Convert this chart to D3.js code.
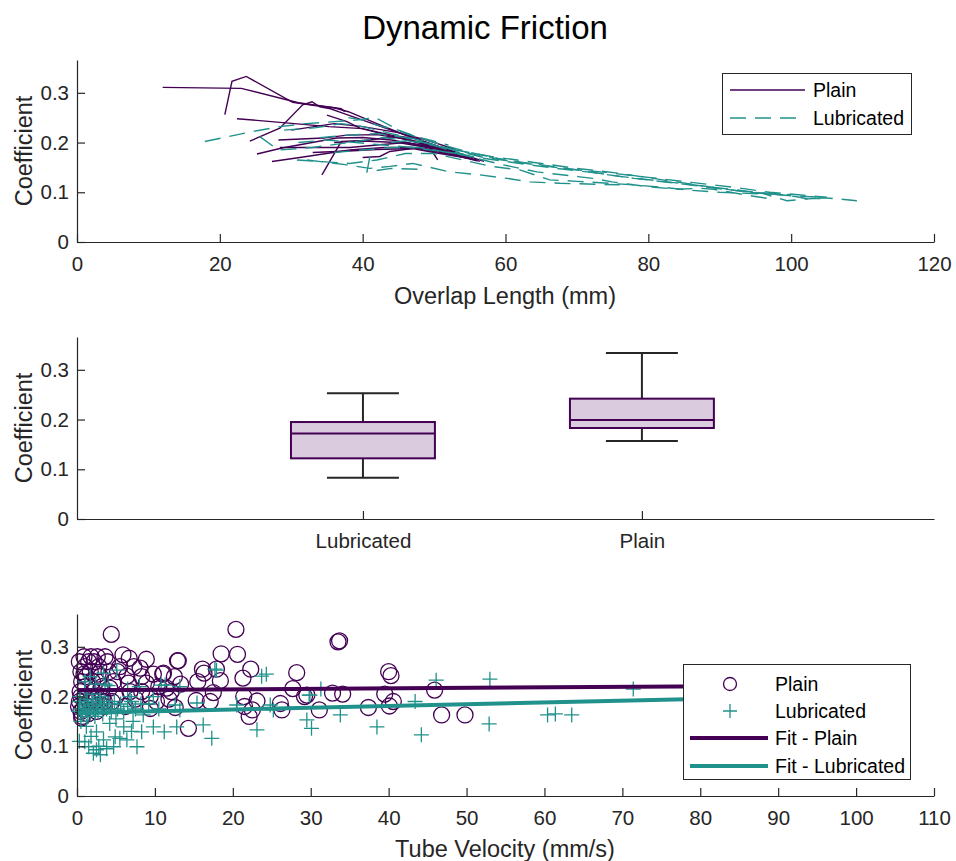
<!DOCTYPE html>
<html>
<head>
<meta charset="utf-8">
<script src="https://cdn.jsdelivr.net/npm/d3@7"></script>
<style>
  body { margin: 0; background: #fff; }
  svg { font-family: "Liberation Sans", Arial, Helvetica, sans-serif; }
</style>
</head>
<body>
<svg id="chart" width="956" height="861"></svg>
<script>
// ---- Overlap length vs. coefficient, one polyline per trial [mm, coefficient]
const plainTrials = [
  [[12,.311],[23,.309],[31,.28],[35,.272],[37,.268],[37.5,.262]],
  [[20.7,.256],[21.7,.323],[23.7,.333],[30.2,.281],[33,.275],[36,.27],[38,.262],[42,.238],[46,.215],[51,.19],[57,.162]],
  [[24.2,.203],[28.4,.229],[31.6,.276],[32.9,.282],[34,.272],[35.5,.268],[37,.26],[40,.245],[45,.22],[50,.195],[55,.17]],
  [[22.4,.248],[35.3,.232],[40,.228],[44,.215],[49,.197],[54,.176]],
  [[25.2,.177],[28.7,.189],[36.4,.209],[40,.21],[44,.205],[48,.195],[52,.182]],
  [[27.3,.162],[31.2,.17],[38.2,.185],[43,.19],[47,.19],[51,.18],[56,.165]],
  [[28.2,.205],[34.5,.209],[37.8,.215],[42,.216],[46,.207],[50,.192]],
  [[28.4,.19],[38.2,.19],[42,.195],[46,.2],[50,.19],[54,.176]],
  [[34.3,.135],[37,.202],[40,.203],[45,.2],[49,.19],[53,.178]],
  [[35,.255],[37.8,.242],[39.6,.229],[47.1,.202],[56.4,.162]],
  [[33,.18],[38,.183],[42,.186],[47,.188],[50,.18],[55,.168]],
  [[30,.225],[36,.238],[40,.232],[45,.22],[49,.205],[53,.186]],
  [[40,.17],[42.4,.172],[43.8,.182],[48,.19],[52,.178],[56,.163]],
  [[36,.2],[41,.205],[45,.213],[48,.207],[49.4,.19],[50.5,.165]]
];
const lubricatedTrials = [
  [[17.9,.202],[24.5,.222],[28.4,.232],[32,.238],[36,.242],[39,.245],[41.8,.25],[45.7,.22],[50,.2],[55,.18],[60,.165]],
  [[25.6,.212],[28.2,.185],[33,.19],[38,.2],[43,.21],[48,.2],[53,.185],[58,.172],[64,.16],[70,.148],[76,.138],[82,.125],[88,.112],[94,.1],[100,.093],[104,.09]],
  [[29,.225],[33.5,.23],[37,.238],[40,.232],[44,.218],[48,.205],[52,.185],[56,.168],[59.7,.155],[64.4,.141],[66.2,.138],[70.4,.131],[72.3,.128],[74.9,.121],[77.9,.115],[80.2,.111],[84,.106],[87.2,.108],[89.1,.106],[91.9,.099],[95.2,.091],[97.5,.086]],
  [[30.8,.165],[38.2,.158],[42,.165],[46,.178],[50,.178],[54,.165],[58,.152],[62,.145],[66.2,.125],[70,.122],[77.9,.115],[82,.11],[86,.104],[90,.1],[93.8,.098],[96.1,.0966],[98,.096],[100.8,.091],[102.2,.087],[104.5,.089],[106.8,.0865],[109.2,.083]],
  [[32.2,.165],[37.8,.155],[41,.148],[43.8,.152],[47,.158],[52.2,.141],[56.4,.135],[60.2,.128],[63.4,.121],[67.6,.118],[76,.115]],
  [[41,.171],[40.6,.141],[44,.148],[48,.146]],
  [[34,.21],[38,.215],[42,.218],[46,.21],[50,.195],[54,.18],[57,.17],[62,.16],[68,.148],[74,.14],[80,.13],[86,.12],[92,.11],[97,.1],[101,.095],[105,.09]],
  [[36,.18],[40,.185],[44,.19],[48,.19],[52,.18],[56,.17],[60,.162],[66,.15],[72,.14],[78,.128],[84,.118],[90,.107],[96,.098],[99.4,.083],[101.7,.086],[103.6,.088],[105,.0865]],
  [[38,.25],[40,.245],[42,.235],[45,.225],[48,.21],[52,.195]],
  [[31,.2],[35,.205],[39,.2],[43,.195],[47,.19],[51,.182],[55,.175]],
  [[44,.2],[47,.205],[50,.195],[53,.185],[56,.175],[60,.165],[65,.155],[70,.145],[76,.132],[82,.122],[88,.112],[95,.1],[100,.095]]
];

// ---- Box summary per condition
const boxCategories = ["Lubricated", "Plain"];
const boxLow    = [0.083, 0.157];
const boxQ1     = [0.122, 0.183];
const boxMedian = [0.172, 0.199];
const boxQ3     = [0.195, 0.242];
const boxHigh   = [0.253, 0.334];

// ---- Tube velocity vs. coefficient samples
const plainVelocity = [
  0.3,0.5,0.6,0.4,0.3,0.5,0.7,0.9,1.0,1.2,1.1,1.0,1.3,1.5,1.7,1.8,2.0,2.1,2.3,2.2,2.6,2.8,3.0,3.2,3.3,3.6,3.9,4.1,
  0.2,0.8,1.6,2.5,1.9,0.5,2.9,3.5,4.5,0.6,1.4,
  4.4,4.2,4.7,5.0,5.5,5.9,6.4,6.6,6.7,6.8,8.1,8.3,8.3,8.9,8.9,9.4,9.4,11.0,11.5,13.0,
  5.2,7.3,9.8,10.5,7.5,10.2,3.5,6.2,12.5,2.7,0.9,11.8,
  11.1,12.9,18.5,20.6,20.4,16.1,16.3,17.9,22.3,21.3,28.2,15.5,18.4,13.3,12.1,17.5,27.7,21.4,15.3,17.1,23.1,
  29.2,32.8,34.1,12.6,21.5,22.5,22.1,26.1,26.3,31.1,14.3,33.5,33.7,
  40.0,40.3,29.5,39.5,40.6,40.1,37.4,45.9,46.8,49.8
];
const plainCoefficient = [
  0.27,0.25,0.23,0.21,0.19,0.17,0.16,0.28,0.26,0.24,0.22,0.20,0.18,0.27,0.25,0.28,0.23,0.21,0.19,0.27,0.28,0.26,0.24,0.22,0.20,0.28,0.27,0.25,
  0.18,0.175,0.19,0.17,0.20,0.20,0.185,0.18,0.19,0.157,0.165,
  0.325,0.217,0.23,0.20,0.26,0.284,0.241,0.227,0.277,0.21,0.257,0.24,0.21,0.275,0.227,0.20,0.176,0.245,0.217,0.272,
  0.25,0.26,0.245,0.22,0.195,0.19,0.19,0.18,0.24,0.245,0.245,0.195,
  0.247,0.272,0.286,0.285,0.335,0.255,0.247,0.255,0.255,0.237,0.248,0.23,0.232,0.225,0.21,0.208,0.216,0.20,0.192,0.19,0.191,
  0.20,0.207,0.205,0.178,0.18,0.173,0.16,0.186,0.173,0.173,0.136,0.31,0.312,
  0.25,0.242,0.203,0.205,0.19,0.181,0.178,0.213,0.163,0.163
];
const lubricatedVelocity = [
  0.3,0.5,0.7,0.9,1.1,1.3,1.5,1.7,1.9,2.1,2.3,2.5,2.7,2.9,3.1,3.3,3.5,3.8,4.1,4.4,4.8,5.2,5.6,6.0,6.5,7.0,7.5,8.2,0.4,1.0,2.0,3.0,
  3.6,6.8,9.2,10.5,1.4,0.2,
  1.7,3.4,5.1,1.0,2.4,4.0,6.5,8.0,10.8,9.8,
  8.5,9.8,8.3,7.7,6.4,4.9,3.4,2.5,2.1,3.0,1.5,1.0,4.7,5.5,6.0,4.2,2.5,1.2,0.5,2.8,3.8,1.8,0.3,7.0,5.0,7.2,
  11.3,12.6,15.4,20.5,24.8,25.2,29.9,29.5,30.1,33.8,11.2,12.8,16.2,17.3,23.1,13.2,13.2,17.7,17.9,23.7,24.3,31.3,29.8,
  38.5,43.4,44.2,46.1,52.9,53.0,60.4,61.4,63.5,71.4
];
const lubricatedCoefficient = [
  0.19,0.175,0.165,0.185,0.17,0.195,0.18,0.165,0.19,0.175,0.16,0.185,0.17,0.195,0.18,0.165,0.19,0.175,0.185,0.17,0.19,0.175,0.185,0.17,0.18,0.19,0.175,0.185,0.20,0.21,0.205,0.20,
  0.225,0.20,0.185,0.175,0.16,0.17,
  0.24,0.247,0.253,0.23,0.225,0.222,0.215,0.22,0.223,0.20,
  0.163,0.139,0.129,0.099,0.113,0.119,0.113,0.093,0.086,0.083,0.099,0.109,0.099,0.116,0.139,0.146,0.129,0.14,0.15,0.10,0.095,0.12,0.11,0.13,0.155,0.15,
  0.223,0.183,0.187,0.183,0.183,0.173,0.203,0.153,0.136,0.163,0.129,0.139,0.143,0.116,0.133,0.22,0.173,0.255,0.253,0.241,0.245,0.215,0.203,
  0.139,0.19,0.123,0.233,0.145,0.235,0.163,0.165,0.163,0.215
];

// Linear fits: [intercept, slope]
const fitPlain = [0.2125, 0.0001];
const fitLubricated = [0.167, 0.00035];
const fitRange = [0, 100];

const xTicksOverlap = [0, 20, 40, 60, 80, 100, 120];
const xTicksVelocity = [0, 10, 20, 30, 40, 50, 60, 70, 80, 90, 100, 110];
const yTicks = [0, 0.1, 0.2, 0.3];

const PURPLE = "#440154", TEAL = "#21918c", INK = "#262626";
const svg = d3.select("#chart");

const left = 77, right = 934;
const panels = [{top: 60, bottom: 242}, {top: 337, bottom: 519}, {top: 614, bottom: 796}];
const yMax = 0.366;

function yScaleFor(p) {
  return d3.scaleLinear().domain([0, yMax]).range([p.bottom, p.top]);
}

function drawAxes(g, x, y, p, xTicks, xFormat) {
  const ax = g.append("g").attr("transform", `translate(0,${p.bottom})`)
    .call(d3.axisBottom(x).tickValues(xTicks).tickFormat(xFormat).tickSizeInner(-8).tickSizeOuter(0));
  const ay = g.append("g").attr("transform", `translate(${left},0)`)
    .call(d3.axisLeft(y).tickValues(yTicks).tickFormat(d => d === 0 ? "0" : d3.format(".1f")(d)).tickSizeInner(-8).tickSizeOuter(0).tickPadding(8));
  [ax, ay].forEach(a => {
    a.select(".domain").attr("stroke", INK).attr("stroke-width", 1.2);
    a.selectAll(".tick line").attr("stroke", INK).attr("stroke-width", 1.2);
    a.selectAll(".tick text").attr("fill", INK).attr("font-size", 20.5).attr("font-family", "Liberation Sans, Arial, sans-serif");
  });
  ax.selectAll(".tick text").attr("dy", "0em").attr("y", 29);
  // y-axis title
  g.append("text")
    .attr("transform", `translate(32,${(p.top + p.bottom) / 2}) rotate(-90)`)
    .attr("text-anchor", "middle").attr("font-size", 23.5).attr("fill", INK)
    .text("Coefficient");
}

// ---- Title
svg.append("text").attr("x", 485).attr("y", 39).attr("text-anchor", "middle")
  .attr("font-size", 33).attr("fill", "#000").text("Dynamic Friction");

// ---- Panel 1: coefficient vs overlap length
{
  const p = panels[0];
  const g = svg.append("g");
  const x = d3.scaleLinear().domain([0, 120]).range([left, right]);
  const y = yScaleFor(p);
  const line = d3.line().x(d => x(d[0])).y(d => y(d[1]));
  g.append("g").selectAll("path").data(plainTrials).join("path")
    .attr("d", line).attr("fill", "none").attr("stroke", PURPLE).attr("stroke-width", 1.4);
  g.append("g").selectAll("path").data(lubricatedTrials).join("path")
    .attr("d", line).attr("fill", "none").attr("stroke", TEAL).attr("stroke-width", 1.4)
    .attr("stroke-dasharray", "16,9");
  drawAxes(g, x, y, p, xTicksOverlap, d3.format("d"));
  g.append("text").attr("x", 505).attr("y", 304).attr("text-anchor", "middle")
    .attr("font-size", 23.5).attr("fill", INK).text("Overlap Length (mm)");

  // legend
  const lg = g.append("g");
  lg.append("rect").attr("x", 722.5).attr("y", 73.5).attr("width", 189).attr("height", 61)
    .attr("fill", "#fff").attr("stroke", INK).attr("stroke-width", 1);
  lg.append("line").attr("x1", 730).attr("x2", 805).attr("y1", 90).attr("y2", 90)
    .attr("stroke", PURPLE).attr("stroke-width", 1.4);
  lg.append("line").attr("x1", 730).attr("x2", 805).attr("y1", 118).attr("y2", 118)
    .attr("stroke", TEAL).attr("stroke-width", 1.4).attr("stroke-dasharray", "16,9");
  lg.append("text").attr("x", 813).attr("y", 97).attr("font-size", 19.5).attr("fill", "#000").text("Plain");
  lg.append("text").attr("x", 813).attr("y", 125).attr("font-size", 19.5).attr("fill", "#000").text("Lubricated");
}

// ---- Panel 2: box summary
{
  const p = panels[1];
  const g = svg.append("g");
  const x = d3.scaleLinear().domain([-0.025, 3.047]).range([left, right]);
  const y = yScaleFor(p);
  const pos = boxCategories.map((c, i) => i + 1);
  const boxW = x(1.516) - x(1);
  const capW = boxW / 2;
  pos.forEach((c, i) => {
    const cx = x(c);
    // whiskers and caps
    g.append("line").attr("x1", cx).attr("x2", cx).attr("y1", y(boxQ3[i])).attr("y2", y(boxHigh[i]))
      .attr("stroke", INK).attr("stroke-width", 2);
    g.append("line").attr("x1", cx).attr("x2", cx).attr("y1", y(boxQ1[i])).attr("y2", y(boxLow[i]))
      .attr("stroke", INK).attr("stroke-width", 2);
    g.append("line").attr("x1", cx - capW / 2).attr("x2", cx + capW / 2).attr("y1", y(boxHigh[i])).attr("y2", y(boxHigh[i]))
      .attr("stroke", INK).attr("stroke-width", 2);
    g.append("line").attr("x1", cx - capW / 2).attr("x2", cx + capW / 2).attr("y1", y(boxLow[i])).attr("y2", y(boxLow[i]))
      .attr("stroke", INK).attr("stroke-width", 2);
    // interquartile box and median
    g.append("rect").attr("x", cx - boxW / 2).attr("width", boxW)
      .attr("y", y(boxQ3[i])).attr("height", y(boxQ1[i]) - y(boxQ3[i]))
      .attr("fill", "#dacbde").attr("stroke", PURPLE).attr("stroke-width", 2);
    g.append("line").attr("x1", cx - boxW / 2).attr("x2", cx + boxW / 2)
      .attr("y1", y(boxMedian[i])).attr("y2", y(boxMedian[i]))
      .attr("stroke", PURPLE).attr("stroke-width", 2);
  });
  drawAxes(g, x, y, p, pos, (d) => boxCategories[d - 1]);
}

// ---- Panel 3: coefficient vs tube velocity
{
  const p = panels[2];
  const g = svg.append("g");
  const x = d3.scaleLinear().domain([0, 110]).range([left, right]);
  const y = yScaleFor(p);
  g.append("g").selectAll("circle").data(d3.range(plainVelocity.length)).join("circle")
    .attr("cx", i => x(plainVelocity[i])).attr("cy", i => y(plainCoefficient[i])).attr("r", 8)
    .attr("fill", "none").attr("stroke", PURPLE).attr("stroke-width", 1.3);
  const plus = (sel, s) => sel.attr("d", i => {
    const px = x(lubricatedVelocity[i]), py = y(lubricatedCoefficient[i]);
    return `M${px - s},${py}H${px + s}M${px},${py - s}V${py + s}`;
  });
  g.append("g").selectAll("path").data(d3.range(lubricatedVelocity.length)).join("path")
    .call(plus, 7.5).attr("fill", "none").attr("stroke", TEAL).attr("stroke-width", 1.3);
  const fitLine = (f) => d3.line().x(d => x(d)).y(d => y(f[0] + f[1] * d))(fitRange);
  g.append("path").attr("d", fitLine(fitPlain)).attr("stroke", PURPLE).attr("stroke-width", 4).attr("fill", "none");
  g.append("path").attr("d", fitLine(fitLubricated)).attr("stroke", TEAL).attr("stroke-width", 4).attr("fill", "none");
  drawAxes(g, x, y, p, xTicksVelocity, d3.format("d"));
  g.append("text").attr("x", 505).attr("y", 857).attr("text-anchor", "middle")
    .attr("font-size", 23.5).attr("fill", INK).text("Tube Velocity (mm/s)");

  // legend
  const lg = g.append("g");
  lg.append("rect").attr("x", 683.5).attr("y", 664.5).attr("width", 227).attr("height", 115)
    .attr("fill", "#fff").attr("stroke", INK).attr("stroke-width", 1);
  lg.append("circle").attr("cx", 730).attr("cy", 684).attr("r", 6.5)
    .attr("fill", "none").attr("stroke", PURPLE).attr("stroke-width", 1.3);
  lg.append("path").attr("d", "M723,711H737M730,704V718").attr("stroke", TEAL).attr("stroke-width", 1.3);
  lg.append("line").attr("x1", 690).attr("x2", 768).attr("y1", 738).attr("y2", 738).attr("stroke", PURPLE).attr("stroke-width", 4);
  lg.append("line").attr("x1", 690).attr("x2", 768).attr("y1", 766).attr("y2", 766).attr("stroke", TEAL).attr("stroke-width", 4);
  const labels = ["Plain", "Lubricated", "Fit - Plain", "Fit - Lubricated"];
  const ys = [691, 718, 745, 773];
  labels.forEach((t, i) => lg.append("text").attr("x", 775).attr("y", ys[i])
    .attr("font-size", 19.5).attr("fill", "#000").text(t));
}
</script>
</body>
</html>
